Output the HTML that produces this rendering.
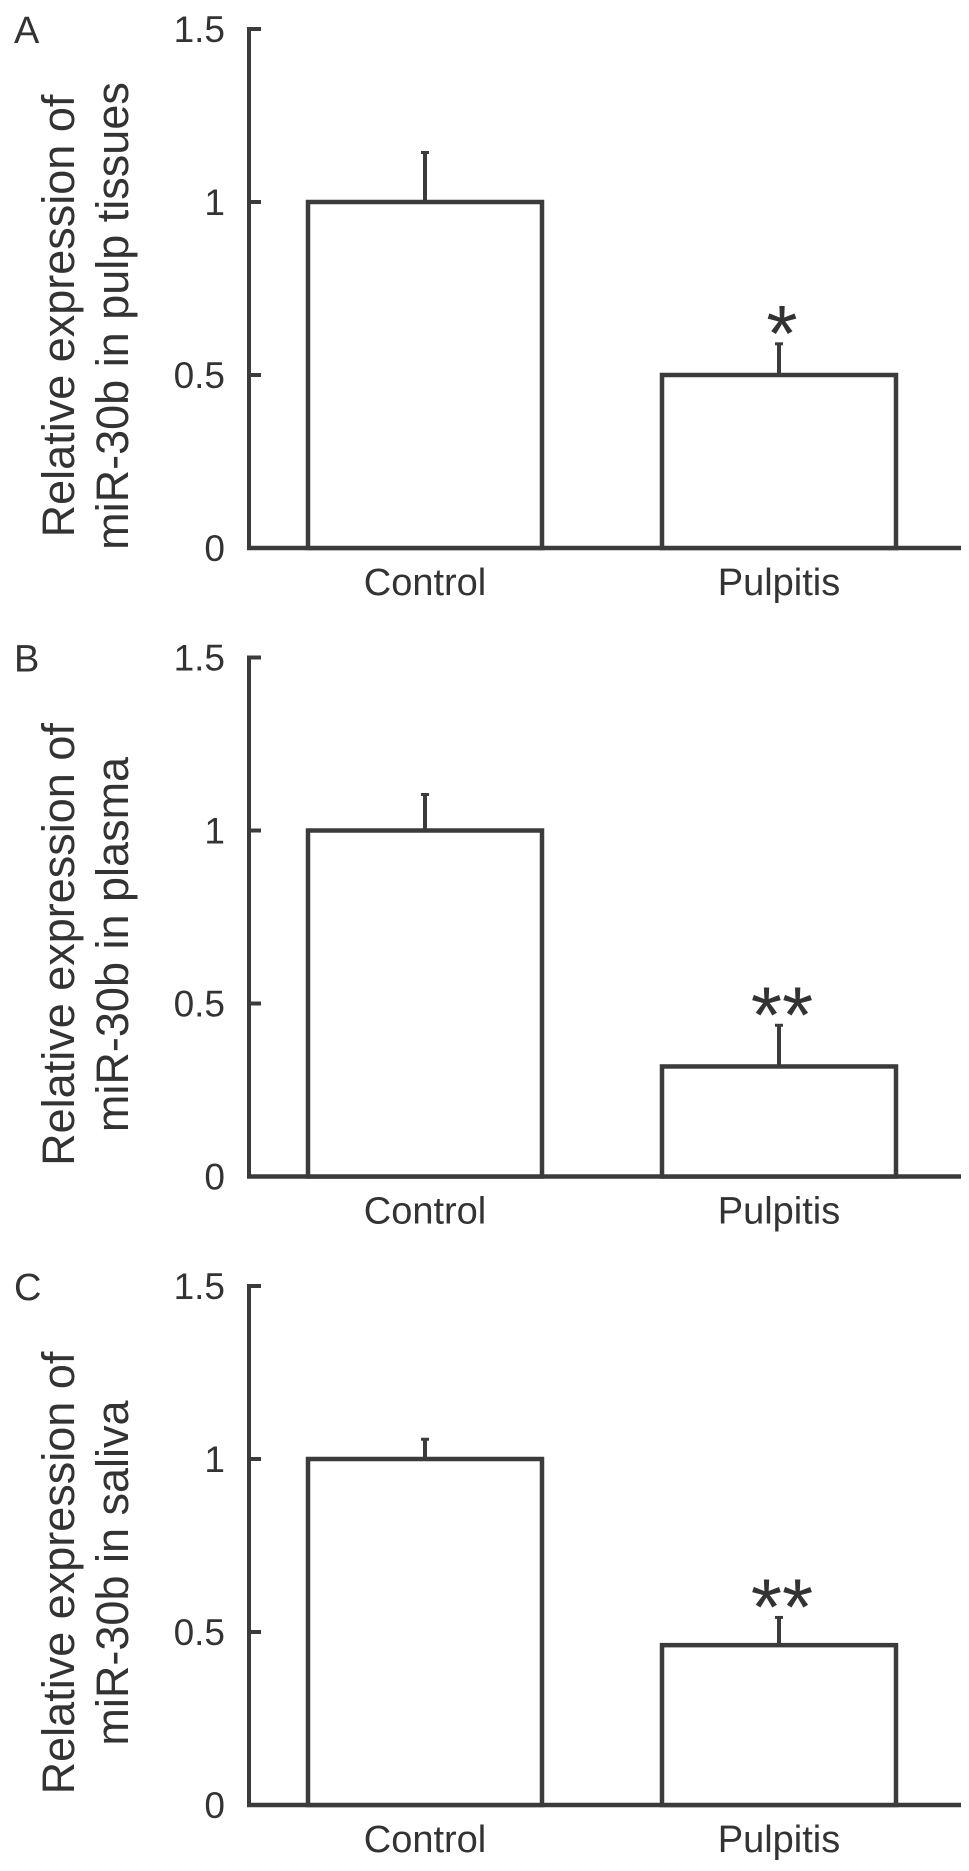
<!DOCTYPE html>
<html><head><meta charset="utf-8">
<style>
html,body{margin:0;padding:0;background:#fff;}
svg{display:block;}
text{font-family:"Liberation Sans",Arial,sans-serif;fill:#333;}
</style></head>
<body>
<svg id="fig" width="969" height="1871" viewBox="0 0 969 1871" xmlns="http://www.w3.org/2000/svg"></svg>
<script>
const panelLetters = ["A","B","C"];
const categories = ["Control","Pulpitis"];
const meansA = [1.0, 0.5];
const errsA = [0.146, 0.093];
const meansB = [1.0, 0.318];
const errsB = [0.107, 0.122];
const meansC = [1.0, 0.462];
const errsC = [0.06, 0.083];
const sigA = ["", "*"];
const sigB = ["", "**"];
const sigC = ["", "**"];
const titlesLine1 = ["Relative expression of","Relative expression of","Relative expression of"];
const titlesLine2 = ["miR-30b in pulp tissues","miR-30b in plasma","miR-30b in saliva"];
const yTicks = [0, 0.5, 1, 1.5];
const yTickLabels = ["0","0.5","1","1.5"];

const NS = "http://www.w3.org/2000/svg";
const svg = document.getElementById("fig");
const C = "#3b3b3b";
const zeros = [548, 1176.5, 1805];
const unit = 346;
const axisX = 249, axisEnd = 961;
const barLeft = [308, 662], barW = 234;

function el(tag, attrs, parent){
  const e = document.createElementNS(NS, tag);
  for (const k in attrs) e.setAttribute(k, attrs[k]);
  (parent||svg).appendChild(e);
  return e;
}
const allMeans = [meansA, meansB, meansC];
const allErrs = [errsA, errsB, errsC];
const allSig = [sigA, sigB, sigC];

for (let p = 0; p < 3; p++) {
  const z = zeros[p];
  const y = v => z - v * unit;
  const g = el("g", {});
  
  

  const L = el("text", {x: 14, y: z - 505, "font-size": 38}, g);
  L.textContent = panelLetters[p];
  
  

  // y-axis title
  const cy = z - 232;
  const t1 = el("text", {x: 0, y: 0, "font-size": 45, "text-anchor": "middle", transform: `translate(74,${cy}) rotate(-90)`}, g);
  t1.textContent = titlesLine1[p];
  
  
  const t2 = el("text", {x: 0, y: 0, "font-size": 45, "text-anchor": "middle", transform: `translate(128,${cy}) rotate(-90)`}, g);
  t2.textContent = titlesLine2[p];
  
  

  // axes
  const ya = el("line", {x1: axisX, y1: y(1.5) - 2, x2: axisX, y2: z + 2, stroke: C, "stroke-width": 4}, g);
  
  
  const xa = el("line", {x1: axisX - 2, y1: z, x2: axisEnd, y2: z, stroke: C, "stroke-width": 4.5}, g);
  
  

  yTicks.forEach((v, i) => {
    const tk = el("line", {x1: axisX, y1: y(v), x2: axisX + 12, y2: y(v), stroke: C, "stroke-width": 4}, g);
    
    
    const tl = el("text", {x: 225, y: y(v) + 13, "font-size": 37, "text-anchor": "end"}, g);
    tl.textContent = yTickLabels[i];
    
    
  });

  categories.forEach((c, i) => {
    const m = allMeans[p][i], e = allErrs[p][i];
    const cx = barLeft[i] + barW / 2;
    const eb = el("line", {x1: cx, y1: y(m), x2: cx, y2: y(m + e), stroke: C, "stroke-width": 4}, g);
    
    
    const cap = el("line", {x1: cx - 4, y1: y(m + e) + 1, x2: cx + 4, y2: y(m + e) + 1, stroke: C, "stroke-width": 3}, g);
    
    
    const r = el("rect", {x: barLeft[i], y: y(m), width: barW, height: z - y(m), fill: "#fff", stroke: C, "stroke-width": 4.5}, g);
    
    
    const cl = el("text", {x: cx, y: z + 47, "font-size": 38, "text-anchor": "middle"}, g);
    cl.textContent = c;
    
    
    if (allSig[p][i]) {
      const s = el("text", {x: cx + 3, y: y(m + e) - 28 + 46, "font-size": 80, "text-anchor": "middle", fill: "#111"}, g);
      s.textContent = allSig[p][i];
      
      
    }
  });
}
</script>
</body></html>
